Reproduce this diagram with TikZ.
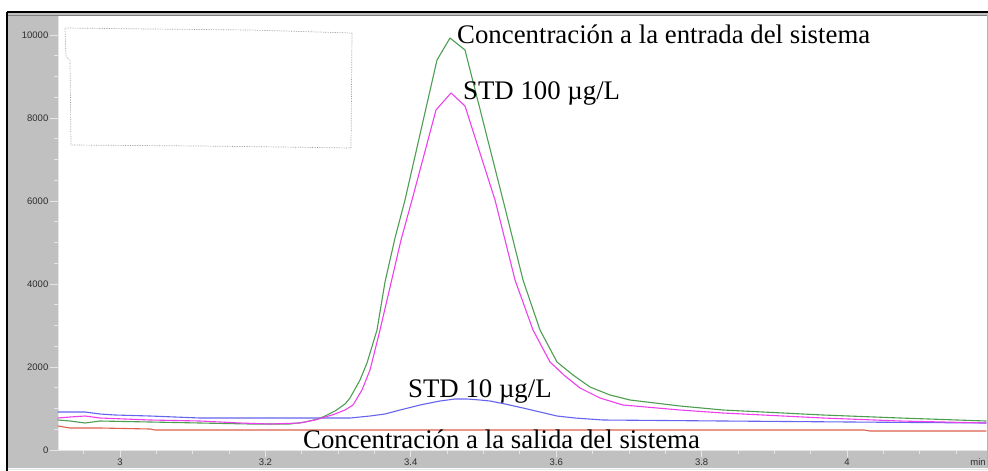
\documentclass[tikz,border=0pt]{standalone}
\usepackage{fontspec}
\setmainfont{Liberation Serif}
\newfontfamily\axfont{Liberation Sans}
\definecolor{panelgray}{HTML}{C0C0C0}
\definecolor{tickgray}{HTML}{E6E6E6}
\definecolor{labgray}{HTML}{2E2E2E}
\definecolor{trgreen}{HTML}{4E9E52}
\definecolor{trpink}{HTML}{EE3FEE}
\definecolor{trblue}{HTML}{6464F0}
\definecolor{trred}{HTML}{E0604E}
\tikzset{
  trace/.style={line width=1.1pt,line join=round,line cap=round},
  bigtext/.style={inner sep=0pt,anchor=base west,font=\fontsize{26.8}{30}\selectfont,text=black},
  ticklab/.style={inner sep=0pt,font=\axfont\fontsize{9.5}{11}\selectfont,text=labgray},
  tickline/.style={draw=tickgray,line width=0.8pt}
}
\begin{document}
\begin{tikzpicture}[x=1pt,y=-1pt]
\useasboundingbox (0,0) rectangle (988,471);
\fill[white] (0,0) rectangle (988,471);
% frame and panels
\fill[panelgray] (7,12) rectangle (988,468);
\fill[white] (58,16) rectangle (987,450);
\draw[black,line width=2pt] (7,12) -- (988,12);
\draw[black,line width=2pt] (7,12) -- (7,471);
\draw[gray,line width=0.7pt] (8,15) -- (988,15);
\draw[gray!60,line width=0.7pt] (987,15) -- (987,468);
\draw[tickgray,line width=1pt] (8,469.5) -- (988,469.5);
% axes
\draw[tickline] (58,16) -- (58,450) -- (987,450);
% y ticks
\foreach \v [count=\k from 0] in {0,2000,4000,6000,8000,10000}{
  \draw[tickline] (50,450-83*\k) -- (58,450-83*\k);
  \node[ticklab,anchor=east] (yl\k) at (48.5,450-83*\k) {\v};
}
\foreach \k in {0,...,20}{
  \draw[tickline] (54,450-20.75*\k) -- (58,450-20.75*\k);
}
% x ticks
\foreach \t [count=\k] in {3,3.2,3.4,3.6,3.8,4}{
  \draw[tickline] ({120+(\t-3)*727},450) -- ({120+(\t-3)*727},457);
  \node[ticklab] (xl\k) at ({120+(\t-3)*727},462.5) {\t};
}
\foreach \k in {-1,...,23}{
  \draw[tickline] ({120+0.05*\k*727},450) -- ({120+0.05*\k*727},453.5);
}
\node[ticklab] (xmin) at (978,462.5) {min};
% dotted legend box
\draw[gray!80,densely dotted,line width=0.7pt] (65,28) -- (150,29) -- (250,30) -- (352,33) -- (351,148) -- (280,147) -- (200,146) -- (71,145) -- (70,60) -- (66,57) -- cycle;
% traces
\draw[trace,trred] plot coordinates {(58,426) (70,428) (100,428) (150,429) (155,430) (300,430) (500,430) (600,430) (864,430) (870,431) (986,431)};
\draw[trace,trblue] plot coordinates {(58,412) (85,412) (100,414) (115,415) (150,416) (200,418) (250,418) (300,418) (322,418) (350,418) (370,416) (385,414) (400,410) (420,405) (440,401) (455,399) (467,399) (480,400) (490,401) (505,404) (523,408) (540,412) (557,416) (575,418) (603,420) (723,421) (850,422) (986,423)};
\draw[trace,trgreen] plot coordinates {(58,420) (70,421) (85,423) (100,421) (150,422) (200,423) (250,424) (290,424) (305,422) (318,419) (325,416) (335,411) (345,404) (350,398) (360,380) (367,363) (377,330) (385,282) (395,238) (405,200) (437,60) (450,38) (465,50) (503,200) (523,280) (540,330) (557,362) (573,375) (590,387) (610,395) (630,400) (680,406) (723,410) (823,415) (900,418) (986,421)};
\draw[trace,trpink] plot coordinates {(58,418) (70,417) (85,416) (100,418) (150,420) (200,421) (240,423) (270,424) (300,423) (315,420) (322,418) (335,414) (345,410) (353,405) (362,390) (370,370) (380,330) (391,283) (401,240) (412,200) (436,110) (451,93) (465,106) (495,200) (515,280) (533,330) (550,362) (565,376) (580,388) (600,398) (623,405) (680,410) (723,413) (823,418) (900,421) (986,423)};
% labels
\node[bigtext] (lin) at (457,43) {Concentración a la entrada del sistema};
\node[bigtext] (l100) at (463,99) {STD 100 µg/L};
\node[bigtext] (l10) at (408,397) {STD 10 µg/L};
\node[bigtext] (lout) at (303,448) {Concentración a la salida del sistema};
\end{tikzpicture}
\end{document}
